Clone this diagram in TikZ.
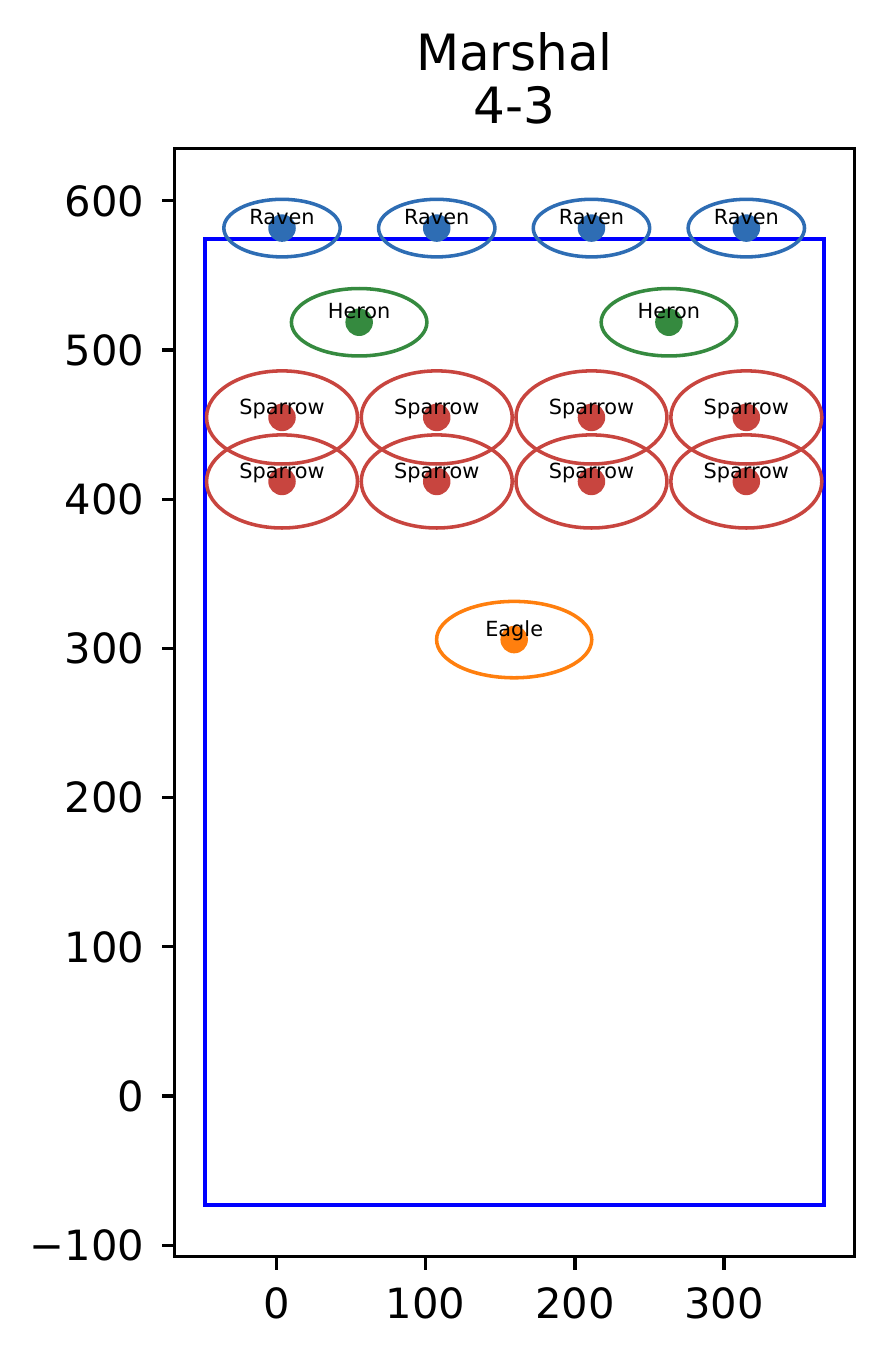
\documentclass[tikz,border=0pt]{standalone}
\usepackage{fontspec}
\setmainfont{DejaVu Sans}
\definecolor{ravenc}{HTML}{2E6DB4}
\definecolor{heronc}{HTML}{358A3F}
\definecolor{sparrowc}{HTML}{C8453F}
\definecolor{eaglec}{HTML}{FF7F0E}
\definecolor{fieldc}{HTML}{0000FF}
\begin{document}
\begin{tikzpicture}[x=0.35808pt,y=0.35808pt,
  dot/.style={circle,inner sep=0pt,minimum size=6.6pt},
  lbl/.style={anchor=base,inner sep=0pt,font=\fontsize{5}{6}\selectfont},
  ring/.style={line width=0.85pt},
  spine/.style={line width=0.8pt,line cap=rect},
  tk/.style={line width=0.8pt},
  ticklbl/.style={inner sep=0pt,font=\fontsize{10}{12}\selectfont},
  titlelbl/.style={inner sep=0pt,anchor=base,font=\fontsize{12}{14}\selectfont}]
\useasboundingbox (-185.32,-175.60) rectangle (407.17,734.58);
% title
\node[titlelbl] (t1) at (159.5,687.3) {Marshal};
\node[titlelbl] (t2) at (159.5,651.8) {4-3};
% field rectangle
\draw[fieldc,line width=0.9pt] (-48,-73.3) rectangle (367,574.2);
% ellipses
\foreach \x/\n in {3.7/1,107.4/2,211.1/3,314.9/4}{
  \draw[ravenc,ring] (\x,581.7) ellipse [x radius=39,y radius=19.3];
  \draw[sparrowc,ring] (\x,454.8) ellipse [x radius=50.6,y radius=31.2];
  \draw[sparrowc,ring] (\x,411.9) ellipse [x radius=50.6,y radius=31.2];
}
\foreach \x in {55.4,263}{
  \draw[heronc,ring] (\x,518.6) ellipse [x radius=45.4,y radius=22.6];
}
\draw[eaglec,ring] (159.3,305.9) ellipse [x radius=52,y radius=25.6];
% dots and labels
\foreach \x/\n in {3.7/1,107.4/2,211.1/3,314.9/4}{
  \node[dot,fill=ravenc] (r\n) at (\x,581.7) {};
  \node[lbl] (rl\n) at ([yshift=0.75pt]r\n.center) {Raven};
  \node[dot,fill=sparrowc] (sa\n) at (\x,454.8) {};
  \node[lbl] (sal\n) at ([yshift=0.6pt]sa\n.center) {Sparrow};
  \node[dot,fill=sparrowc] (sb\n) at (\x,411.9) {};
  \node[lbl] (sbl\n) at ([yshift=0.6pt]sb\n.center) {Sparrow};
}
\foreach \x/\n in {55.4/1,263/2}{
  \node[dot,fill=heronc] (h\n) at (\x,518.6) {};
  \node[lbl] (hl\n) at ([yshift=0.8pt]h\n.center) {Heron};
}
\node[dot,fill=eaglec] (e1) at (159.3,305.9) {};
\node[lbl] (el1) at ([yshift=0.75pt]e1.center) {Eagle};
% axes
\draw[spine] (-68.2,-107.7) rectangle (387.2,634.9);
\foreach \v in {0,100,200,300}{
  \draw[tk] (\v,-107.7) -- (\v,-116.4);
  \node[ticklbl,anchor=base] at (\v,-148.8) {\v};
}
\foreach \v/\t in {-100/−100,0/0,100/100,200/200,300/300,400/400,500/500,600/600}{
  \draw[tk] (-68.2,\v) -- (-76.9,\v);
  \node[ticklbl,anchor=base east] at (-88.0,\v-10.2) {\t};
}
\end{tikzpicture}
\end{document}
